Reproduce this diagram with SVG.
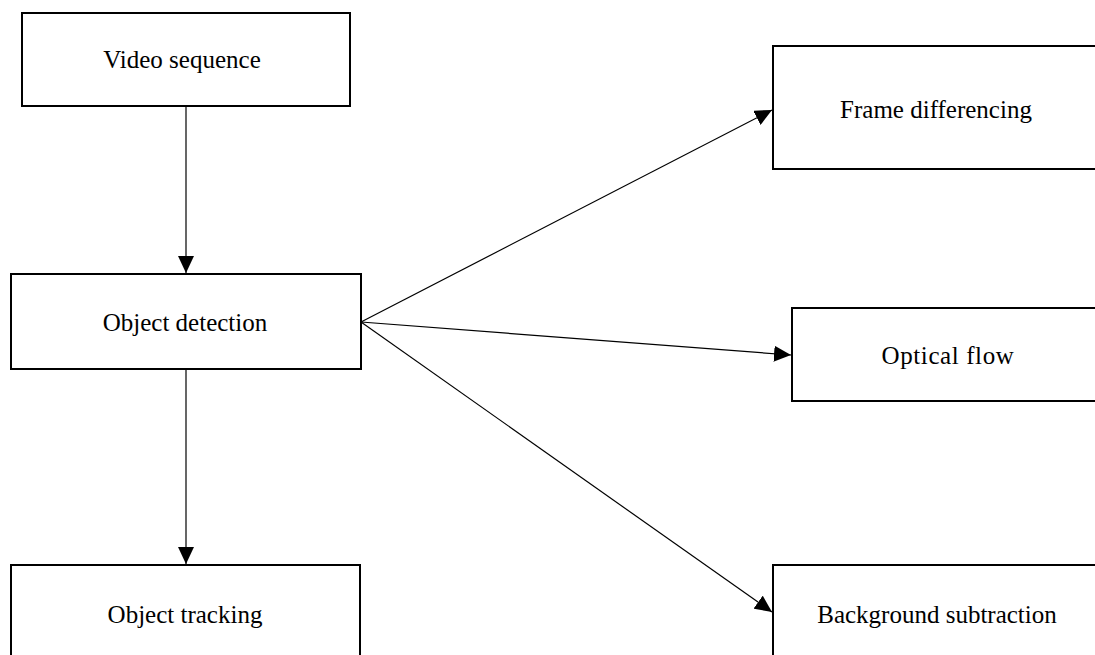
<svg xmlns="http://www.w3.org/2000/svg" width="1095" height="655" viewBox="0 0 1095 655">
<style>
.box{fill:#fff;stroke:#000;stroke-width:2}
.lbl{font-family:"Liberation Serif","Times New Roman",serif;font-size:25px;fill:#000;text-anchor:middle}
.edge{stroke:#000;stroke-width:1.2;fill:none}
</style>
<defs>
<marker id="arr" markerUnits="userSpaceOnUse" markerWidth="17" markerHeight="16" refX="17" refY="8" orient="auto">
<path d="M0,0 L17,8 L0,16 z" fill="#000"/>
</marker>
</defs>
<rect width="1095" height="655" fill="#fff"/>
<g id="n-video"><rect class="box" x="22" y="13" width="328" height="93"/><text class="lbl" x="182" y="68">Video sequence</text></g>
<g id="n-detect"><rect class="box" x="11" y="274" width="350" height="95"/><text class="lbl" x="185" y="331">Object detection</text></g>
<g id="n-track"><rect class="box" x="11" y="565" width="349" height="100"/><text class="lbl" x="185" y="623">Object tracking</text></g>
<g id="n-frame"><rect class="box" x="773" y="46" width="330" height="123"/><text class="lbl" x="936" y="118">Frame differencing</text></g>
<g id="n-optical"><rect class="box" x="792" y="308" width="312" height="93"/><text class="lbl" x="948" y="364" letter-spacing="0.6">Optical flow</text></g>
<g id="n-bg"><rect class="box" x="773" y="565" width="330" height="100"/><text class="lbl" x="937" y="623">Background subtraction</text></g>
<g id="edges">
<line class="edge" x1="186" y1="106" x2="186" y2="273" marker-end="url(#arr)"/>
<line class="edge" x1="186" y1="369" x2="186" y2="564" marker-end="url(#arr)"/>
<line class="edge" x1="361" y1="322" x2="772" y2="110" marker-end="url(#arr)"/>
<line class="edge" x1="361" y1="322" x2="791" y2="355" marker-end="url(#arr)"/>
<line class="edge" x1="361" y1="322" x2="772" y2="612" marker-end="url(#arr)"/>
</g>
</svg>
